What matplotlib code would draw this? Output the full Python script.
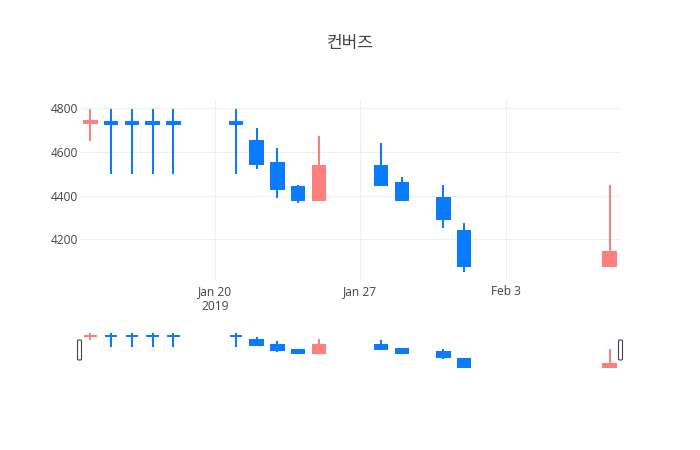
import matplotlib
matplotlib.use('Agg')
import matplotlib.pyplot as plt
import matplotlib.dates as mdates
from matplotlib.patches import Rectangle, FancyBboxPatch
import datetime as dt

# ---------------- data ----------------
title = '컨버즈'
dates = ['2019-01-14', '2019-01-15', '2019-01-16', '2019-01-17', '2019-01-18',
         '2019-01-21', '2019-01-22', '2019-01-23', '2019-01-24', '2019-01-25',
         '2019-01-28', '2019-01-29', '2019-01-31', '2019-02-01', '2019-02-08']
opens = [4732, 4738, 4738, 4738, 4738, 4738, 4650, 4550, 4440, 4380,
         4535, 4460, 4390, 4240, 4080]
highs = [4795, 4795, 4795, 4795, 4795, 4795, 4710, 4620, 4450, 4675,
         4640, 4485, 4450, 4275, 4450]
lows = [4652, 4500, 4500, 4500, 4500, 4500, 4520, 4390, 4365, 4380,
        4445, 4378, 4250, 4050, 4080]
closes = [4740, 4728, 4728, 4728, 4728, 4728, 4545, 4430, 4380, 4535,
          4450, 4380, 4295, 4080, 4140]
xtick_dates = ['2019-01-20', '2019-01-27', '2019-02-03']
xtick_labels = ['Jan 20\n2019', 'Jan 27', 'Feb 3']
ytick_values = [4200, 4400, 4600, 4800]

# ---------------- style ----------------
RED = '#ff7f7f'
BLUE = '#0a7bff'
TXT = '#444444'
GRID = '#eeeeee'
LW = 1.44  # 2 px

plt.rcParams['font.family'] = ['Open Sans', 'Noto Sans CJK KR', 'DejaVu Sans']

fig = plt.figure(figsize=(7, 4.5), dpi=100)
W, H = 700, 450


def ax_rect(x0, y0, x1, y1):
    return [x0 / W, 1 - y1 / H, (x1 - x0) / W, (y1 - y0) / H]


ax = fig.add_axes(ax_rect(80, 100, 620, 280))
sl = fig.add_axes(ax_rect(80, 331, 620, 370))

xnum = [mdates.date2num(dt.datetime.strptime(d, '%Y-%m-%d')) for d in dates]
x_lo = mdates.date2num(dt.datetime(2019, 1, 13, 12))
x_hi = mdates.date2num(dt.datetime(2019, 2, 8, 12))
y_lo, y_hi = 4014, 4838


def draw(a):
    for x, o, h, l, c in zip(xnum, opens, highs, lows, closes):
        col = RED if c > o else BLUE
        a.vlines(x, l, h, color=col, lw=LW, zorder=3)
        a.add_patch(Rectangle((x - 0.3, min(o, c)), 0.6, abs(c - o),
                              facecolor=col, edgecolor=col, lw=LW,
                              joinstyle='miter', zorder=4))
    a.set_xlim(x_lo, x_hi)
    a.set_ylim(y_lo, y_hi)
    for s in a.spines.values():
        s.set_visible(False)


draw(ax)
draw(sl)

# main axis ticks & grid
ax.set_yticks(ytick_values)
ax.set_yticklabels([str(v) for v in ytick_values])
ax.set_xticks([mdates.date2num(dt.datetime.strptime(d, '%Y-%m-%d')) for d in xtick_dates])
ax.set_xticklabels(xtick_labels, linespacing=1.25)
ax.tick_params(axis='both', length=0, labelsize=8.64, colors=TXT)
ax.tick_params(axis='y', pad=1.6)
ax.tick_params(axis='x', pad=3.6)
ax.grid(True, color=GRID, lw=0.72, zorder=0)
ax.set_axisbelow(True)

sl.set_xticks([])
sl.set_yticks([])
sl.patch.set_alpha(0)

# range slider handles
for hx in (79.5, 620.5):
    fig.patches.append(FancyBboxPatch(((hx - 2) / W, 1 - 360 / H), 4 / W, 20 / H,
                                      boxstyle='round,pad=0,rounding_size=0.002',
                                      facecolor='white', edgecolor=TXT, lw=0.8,
                                      transform=fig.transFigure, figure=fig))

fig.text(0.5, 1 - 43 / H, title, ha='center', va='center', fontsize=12.24,
         color=TXT, family=['Noto Sans CJK KR', 'DejaVu Sans'])

fig.savefig('out.png', dpi=100)
